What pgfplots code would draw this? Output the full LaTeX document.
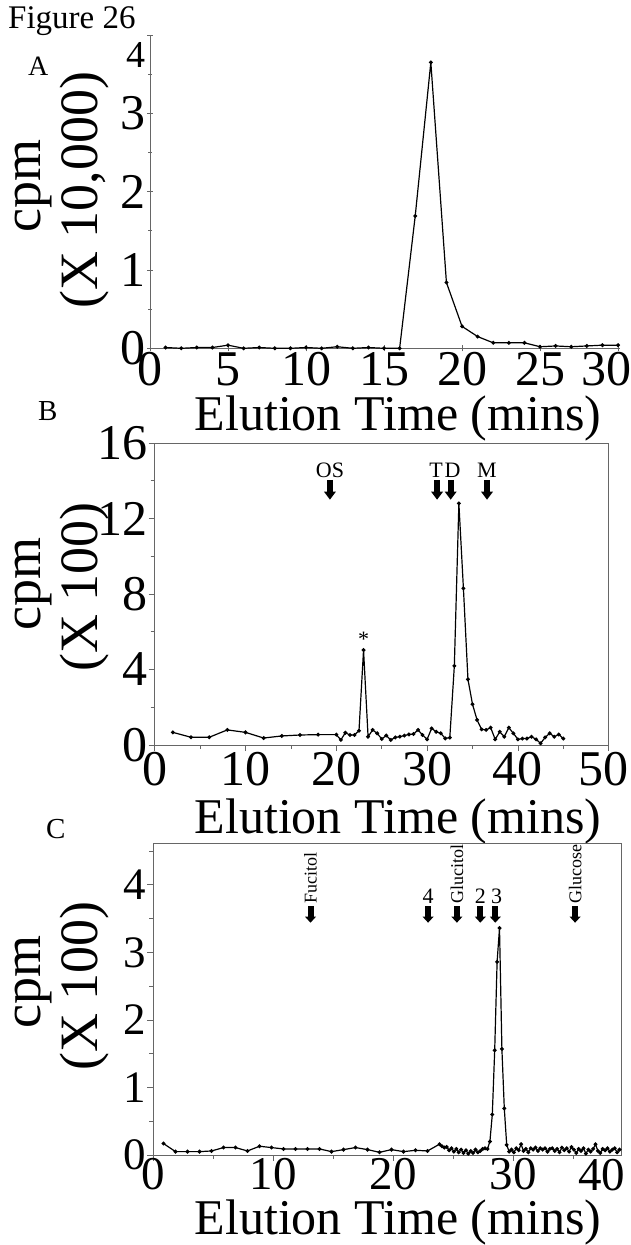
\documentclass[border=0pt]{standalone}
\usepackage{fontspec}
\setmainfont{Liberation Serif}
\usepackage{pgfplots}
\pgfplotsset{compat=1.18}
\usetikzlibrary{arrows.meta}

\newcommand\fs[1]{\fontsize{#1}{#1}\selectfont}

\pgfplotsset{
  elution/.style={
    scale only axis,
    tick align=outside,
    major tick length=6pt,
    minor tick length=4pt,
    axis line style={black!60, line width=1pt},
    tick style={black!60, line width=0.8pt},
    /pgf/number format/assume math mode=true,
    tick label style={font=\fs{50}, inner sep=1pt},
    ymin=0,
    clip=false,
  },
  trace/.style={black, line width=1.2pt, mark=*, mark size=1.3pt, mark options={solid}},
}
\tikzset{
  std/.style={line width=6pt, -{Triangle[width=12pt,length=8pt,line width=0pt]}},
  stdsmall/.style={line width=6pt, -{Triangle[width=11pt,length=6pt,line width=0pt]}},
}

\begin{document}
\begin{tikzpicture}[x=1pt,y=1pt]
\path[use as bounding box] (0,0) rectangle (631,-1245);

\node[anchor=base west, inner sep=0pt, font=\fs{33}] at (8,-28) {Figure 26};

% ---------------- Panel A ----------------
\node[anchor=base west, inner sep=0pt, font=\fs{28}] at (28,-75) {A};
\begin{axis}[elution,
  at={(150pt,-348.3pt)}, anchor=south west,
  width=469.6pt, height=313.3pt,
  axis x line=bottom, axis y line=left,
  axis line style={-},
  xmin=0, xmax=30.1, ymax=4,
  xtick={0,5,...,25}, extra x ticks={30},
  extra x tick style={tick label style={xshift=-12pt}},
  ytick={0,1,2,3}, minor ytick={0.5,1.5,2.5,3.5},
  extra y ticks={4},
  extra y tick style={tick label style={yshift=-20pt, font=\fs{38}}},
]
\addplot[trace] coordinates {
(1,0.01)(2,0.00)(3,0.01)(4,0.01)(5,0.04)(6,0.00)(7,0.01)(8,0.00)
(9,0.00)(10,0.01)(11,0.00)(12,0.02)(13,0.00)(14,0.01)(15,0.00)(16,0.00)
(17,1.69)(18,3.65)(19,0.84)(20,0.28)(21,0.15)(22,0.07)(23,0.07)(24,0.07)
(25,0.02)(26,0.03)(27,0.02)(28,0.03)(29,0.04)(30,0.04)};
\end{axis}
\node[rotate=90, anchor=base, inner sep=0pt, font=\fs{54}] at (40,-186) {cpm};
\node[rotate=90, anchor=base, inner sep=0pt, font=\fs{54}] at (97,-190) {(X 10,000)};
\node[anchor=base, inner sep=0pt, font=\fs{50}] at (398,-430) {Elution Time (mins)};

% ---------------- Panel B ----------------
\node[anchor=base west, inner sep=0pt, font=\fs{29}] at (38,-420) {B};
\begin{axis}[elution,
  at={(154.7pt,-745pt)}, anchor=south west,
  width=454pt, height=302pt,
  xmin=0, xmax=50, ymax=16,
  xtick={0,10,...,40}, minor xtick={5,15,...,45},
  extra x ticks={50},
  extra x tick style={tick label style={xshift=-5pt}},
  ytick={0,4,...,16}, minor ytick={2,6,...,14},
  xtick pos=bottom, ytick pos=left,
]
\addplot[trace] coordinates {
(2,0.67)(4,0.41)(6,0.41)(8,0.80)(10,0.67)(12,0.37)(14,0.48)(16,0.53)
(18,0.55)(20,0.55)(20.5,0.27)(21,0.65)(21.5,0.53)(22,0.53)(22.5,0.76)
(23,5.03)(23.5,0.44)(24,0.80)(24.5,0.62)(25,0.32)(25.5,0.50)(26,0.27)
(26.5,0.40)(27,0.44)(27.5,0.50)(28,0.56)(28.5,0.58)(29,0.80)(29.5,0.53)
(30,0.30)(30.5,0.88)(31,0.70)(31.5,0.62)(32,0.35)(32.5,0.39)(33,4.19)
(33.5,12.8)(34,8.3)(34.5,3.48)(35,2.16)(35.5,1.33)(36,0.83)(36.5,0.80)
(37,0.92)(37.5,0.30)(38,0.70)(38.5,0.44)(39,0.92)(39.5,0.62)(40,0.30)
(40.5,0.34)(41,0.34)(41.5,0.44)(42,0.30)(42.5,0.09)(43,0.40)(43.5,0.62)
(44,0.44)(44.5,0.56)(45,0.34)};
% standards
\draw[std] (axis cs:19.3,14.05) -- (axis cs:19.3,13.0);
\draw[std] (axis cs:31.1,14.05) -- (axis cs:31.1,13.0);
\draw[std] (axis cs:32.6,14.05) -- (axis cs:32.6,13.0);
\draw[std] (axis cs:36.6,14.05) -- (axis cs:36.6,13.0);
\node[anchor=base, inner sep=0pt, font=\fs{22}] at (axis cs:19.3,14.15) {OS};
\node[anchor=base, inner sep=0pt, font=\fs{22}] at (axis cs:31.0,14.15) {T};
\node[anchor=base, inner sep=0pt, font=\fs{22}] at (axis cs:32.8,14.15) {D};
\node[anchor=base, inner sep=0pt, font=\fs{22}] at (axis cs:36.6,14.15) {M};
\node[inner sep=0pt, font=\fs{22}] at (axis cs:23,5.6) {*};
\end{axis}
\node[rotate=90, anchor=base, inner sep=0pt, font=\fs{54}] at (40,-584) {cpm};
\node[rotate=90, anchor=base, inner sep=0pt, font=\fs{54}] at (97,-587) {(X 100)};
\node[anchor=base, inner sep=0pt, font=\fs{50}] at (398,-833) {Elution Time (mins)};

% ---------------- Panel C ----------------
\node[anchor=base west, inner sep=0pt, font=\fs{29}] at (46,-838) {C};
\begin{axis}[elution,
  at={(153.3pt,-1155pt)}, anchor=south west,
  width=468pt, height=312pt,
  xmin=0, xmax=39, ymax=4.62,
  xtick={0,10,20,30}, minor xtick={5,15,25,35},
  ytick={0,1,2,3,4}, minor ytick={0.5,1.5,2.5,3.5,4.5},
  yticklabel style={font=\fs{45}},
  xticklabel style={yshift=4pt, font=\fs{47}},
  xtick pos=bottom, ytick pos=left,
]
\addplot[trace] coordinates {
(0.85,0.17)(1.85,0.05)(2.85,0.05)(3.85,0.05)(4.85,0.06)(5.85,0.11)
(6.85,0.11)(7.85,0.06)(8.85,0.13)(9.85,0.11)(10.85,0.09)(11.85,0.09)
(12.85,0.09)(13.85,0.09)(14.85,0.05)(15.85,0.08)(16.85,0.11)(17.85,0.08)
(18.85,0.04)(19.85,0.08)(20.85,0.05)(21.85,0.07)(22.85,0.06)(23.85,0.16)
(24.05,0.13)(24.25,0.11)(24.45,0.12)(24.65,0.07)(24.85,0.10)(25.05,0.05)
(25.25,0.09)(25.45,0.04)(25.65,0.08)(25.85,0.03)(26.05,0.07)(26.25,0.02)
(26.45,0.06)(26.65,0.03)(26.85,0.08)(27.05,0.04)(27.25,0.06)(27.45,0.09)
(27.65,0.10)(27.85,0.09)(28.05,0.20)(28.25,0.60)(28.45,1.55)(28.65,2.86)
(28.85,3.36)(29.05,1.57)(29.25,0.69)(29.45,0.15)(29.65,0.05)(29.85,0.08)
(30.05,0.04)(30.25,0.10)(30.45,0.07)(30.65,0.16)(30.85,0.06)(31.05,0.09)
(31.25,0.04)(31.45,0.10)(31.65,0.08)(31.85,0.11)(32.05,0.06)(32.25,0.10)
(32.45,0.08)(32.65,0.10)(32.85,0.05)(33.05,0.09)(33.25,0.10)(33.45,0.06)
(33.65,0.09)(33.85,0.04)(34.05,0.11)(34.25,0.07)(34.45,0.10)(34.65,0.05)
(34.85,0.12)(35.05,0.08)(35.25,0.03)(35.45,0.09)(35.65,0.06)(35.85,0.10)
(36.05,0.02)(36.25,0.08)(36.45,0.05)(36.65,0.09)(36.85,0.16)(37.05,0.06)
(37.25,0.03)(37.45,0.09)(37.65,0.07)(37.85,0.10)(38.05,0.05)(38.25,0.08)
(38.45,0.10)(38.65,0.04)(38.85,0.08)};
% standards
\draw[stdsmall] (axis cs:13.1,3.68) -- (axis cs:13.1,3.44);
\draw[stdsmall] (axis cs:22.9,3.68) -- (axis cs:22.9,3.44);
\draw[stdsmall] (axis cs:25.3,3.68) -- (axis cs:25.3,3.44);
\draw[stdsmall] (axis cs:27.25,3.68) -- (axis cs:27.25,3.44);
\draw[stdsmall] (axis cs:28.5,3.68) -- (axis cs:28.5,3.44);
\draw[stdsmall] (axis cs:35.15,3.68) -- (axis cs:35.15,3.44);
\node[rotate=90, anchor=west, inner sep=0pt, font=\fs{18}] at (axis cs:13.1,3.72) {Fucitol};
\node[rotate=90, anchor=west, inner sep=0pt, font=\fs{18}] at (axis cs:25.3,3.72) {Glucitol};
\node[rotate=90, anchor=west, inner sep=0pt, font=\fs{18}] at (axis cs:35.15,3.72) {Glucose};
\node[anchor=base, inner sep=0pt, font=\fs{22}] at (axis cs:22.9,3.73) {4};
\node[anchor=base, inner sep=0pt, font=\fs{22}] at (axis cs:27.25,3.73) {2};
\node[anchor=base, inner sep=0pt, font=\fs{22}] at (axis cs:28.6,3.73) {3};
\node[anchor=north east, inner sep=1pt, font=\fs{47}] at ([xshift=5pt,yshift=-3pt]axis cs:39,0) {40};
\end{axis}
\node[rotate=90, anchor=base, inner sep=0pt, font=\fs{54}] at (40,-982) {cpm};
\node[rotate=90, anchor=base, inner sep=0pt, font=\fs{54}] at (97,-986) {(X 100)};
\node[anchor=base, inner sep=0pt, font=\fs{50}] at (398,-1234) {Elution Time (mins)};
\end{tikzpicture}
\end{document}
